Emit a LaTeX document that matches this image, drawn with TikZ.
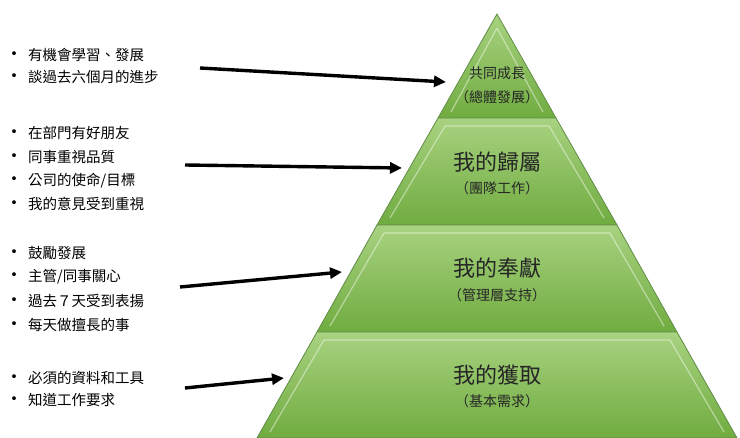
\documentclass[tikz,border=0pt]{standalone}
\usepackage{fontspec}
\setmainfont{Noto Sans CJK TC}
\usetikzlibrary{arrows.meta}
\definecolor{gtop}{RGB}{168,210,128}
\definecolor{gbot}{RGB}{112,172,64}
\definecolor{gedge}{RGB}{96,140,70}
\tikzset{
  layer/.style={top color=gtop,bottom color=gbot,draw=gedge,line width=0.8pt},
  bevel/.style={draw=white,opacity=0.45,line width=1.2pt},
  big/.style={font=\fontsize{22}{24}\selectfont,text=black!85},
  small/.style={font=\fontsize{14}{16}\selectfont,text=black!85},
  item/.style={anchor=west,font=\fontsize{14.5}{16}\selectfont,inner sep=0pt},
  arr/.style={-{Triangle[length=12pt,width=11pt]},line width=3.4pt}
}
\begin{document}
\begin{tikzpicture}[x=1pt,y=-1pt]
\useasboundingbox (0,0) rectangle (740,438);
% pyramid layers
\draw[layer] (497,14) -- (556,118) -- (438,118) -- cycle;
\draw[layer] (438,118) -- (556,118) -- (617,225) -- (377,225) -- cycle;
\draw[layer] (377,225) -- (617,225) -- (677,332) -- (317,332) -- cycle;
\draw[layer] (317,332) -- (677,332) -- (737,438) -- (257,438) -- cycle;
% bevels
\draw[bevel] (497,28) -- (451,112) (497,28) -- (543,112);
\draw[bevel] (445,126) -- (549,126) (445,126) -- (390,218) (549,126) -- (604,218);
\draw[bevel] (384,233) -- (610,233) (384,233) -- (330,326) (610,233) -- (664,326);
\draw[bevel] (324,340) -- (670,340) (324,340) -- (270,432) (670,340) -- (724,432);
% labels
\node[small] (t1) at (497,73) {共同成長};
\node[small] (t1b) at (497,97) {（總體發展）};
\node[big] (t2) at (497,162) {我的歸屬};
\node[small] (t2b) at (497,188) {（團隊工作）};
\node[big] (t3) at (497,268) {我的奉獻};
\node[small] (t3b) at (497,295) {（管理層支持）};
\node[big] (t4) at (497,375) {我的獲取};
\node[small] (t4b) at (497,401) {（基本需求）};
% lists
\foreach \y/\t in {55/{有機會學習、發展},77/{談過去六個月的進步},
  133/{在部門有好朋友},157/{同事重視品質},181/{公司的使命/目標},204/{我的意見受到重視},
  253/{鼓勵發展},277/{主管/同事關心},301/{過去７天受到表揚},325/{每天做擅長的事},
  378/{必須的資料和工具},400/{知道工作要求}}
  \node[item] at (5,\y) {{\fontsize{18}{18}\selectfont •}\hspace{5pt}\t};
% arrows
\coordinate (s1) at (200,68); \coordinate (e1) at (446,82);
\coordinate (s2) at (185,165); \coordinate (e2) at (402,168);
\coordinate (s3) at (180,287); \coordinate (e3) at (342,272);
\coordinate (s4) at (185,388); \coordinate (e4) at (284,378);
\draw[arr] (s1) -- (e1);
\draw[arr] (s2) -- (e2);
\draw[arr] (s3) -- (e3);
\draw[arr] (s4) -- (e4);
\end{tikzpicture}
\end{document}
